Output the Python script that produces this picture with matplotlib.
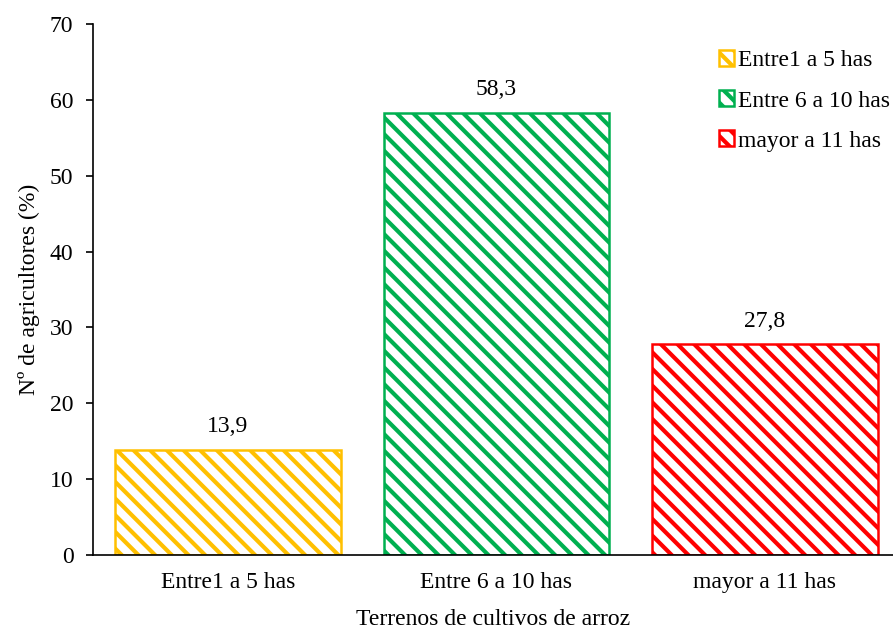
import matplotlib.pyplot as plt

plt.rcParams['font.family'] = ['Liberation Serif', 'DejaVu Serif']
plt.rcParams['hatch.linewidth'] = 3.0

categorias = ['Entre1 a 5 has', 'Entre 6 a 10 has', 'mayor a 11 has']
porcentajes = [13.9, 58.3, 27.8]
colores = ['#FFC000', '#00B050', '#FF0000']

fig = plt.figure(figsize=(8.93, 6.30), dpi=100, facecolor='w')
ax = fig.add_axes([0.104, 0.119, 0.896, 0.843])

x = range(len(categorias))
for i, (cat, val, col) in enumerate(zip(categorias, porcentajes, colores)):
	ax.bar(i, val, width=0.84, color='white', edgecolor=col, hatch='\\\\',
		linewidth=1.8, label=cat)
	ax.text(i, val + 3.0, ('%.1f' % val).replace('.', ','),
		ha='center', va='center', fontsize=17)

ax.set_xlim(-0.503, 2.477)
ax.set_ylim(0, 70)
ax.set_yticks(range(0, 71, 10))
ax.set_xticks(list(x))
ax.set_xticklabels(categorias, fontsize=17)
ax.tick_params(axis='y', labelsize=17, direction='out', length=5, width=1.2, pad=9)
ax.tick_params(axis='x', length=0, pad=12)
ax.spines['top'].set_visible(False)
ax.spines['right'].set_visible(False)
ax.spines['left'].set_linewidth(1.2)
ax.spines['bottom'].set_linewidth(1.2)

ax.set_ylabel('Nº de agricultores (%)', fontsize=17, labelpad=7)
ax.set_xlabel('Terrenos de cultivos de arroz', fontsize=17, labelpad=12)

leg = ax.legend(loc='upper right', frameon=False, fontsize=17,
	handlelength=0.65, handleheight=0.65, handletextpad=0.15,
	labelspacing=0.8, borderaxespad=0.2, bbox_to_anchor=(1.014, 0.977))

fig.savefig('out.png', dpi=100)
